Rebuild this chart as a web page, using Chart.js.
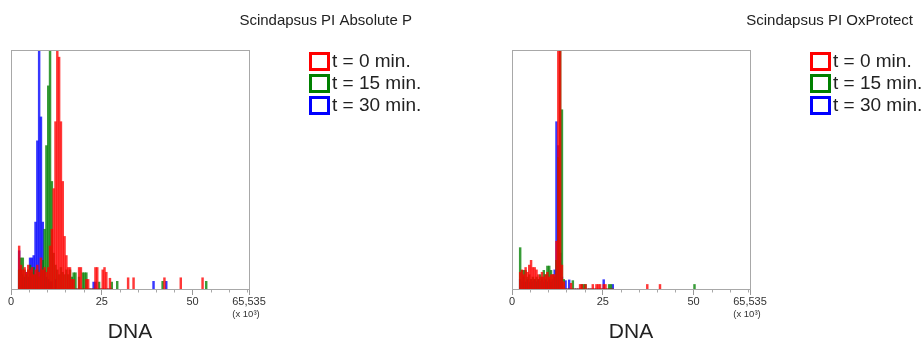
<!DOCTYPE html>
<html><head><meta charset="utf-8">
<script src="https://cdn.jsdelivr.net/npm/chart.js@4/dist/chart.umd.min.js"></script>
<style>
html,body{margin:0;padding:0;background:#fff;overflow:hidden;width:922px;height:345px;position:relative;}
.wrap{position:absolute;top:0;width:427px;height:345px;}
</style></head><body>
<div class="wrap" style="left:0"><canvas id="c1" width="427" height="345"></canvas></div>
<div class="wrap" style="left:501px"><canvas id="c2" width="427" height="345"></canvas></div>
<script>
// ---------- data ----------
const titles = ['Scindapsus PI Absolute P', 'Scindapsus PI OxProtect'];
const seriesLabels = ['t = 0 min.', 't = 15 min.', 't = 30 min.'];
const axisTitle = 'DNA';
const majorTicks = [0, 25, 50, 65.535];
const majorTickText = ['0', '25', '50', '65,535'];
const minorTicks = [5, 10, 15, 20, 30, 35, 40, 45, 55, 60, 65];
const scaleNote = '(x 10\u00B3)';
// bin centres (x 10^3) of the dense part of the histograms
const bins = [2.25,2.75,3.25,3.75,4.25,4.75,5.25,5.75,6.25,6.75,7.25,7.75,8.25,8.75,9.25,9.75,10.25,10.75,11.25,11.75,12.25,12.75,13.25,13.75,14.25,14.75,15.25,15.75,16.25,16.75,17.25,17.75,18.25,18.75,19.25,19.75,20.25,20.75,21.25,21.75,22.25,22.75,23.25,23.75,24.25,24.75,25.25,25.75,26.25,26.75,27.25,27.75];
// Absolute P (left) – counts in % of full scale
const absRed   = [18,10,8,9,7,10,8,9,6,8,10,7,13,8,9,7,9,18,25,42,70,100,97,70,45,22,14,9,9,4,4,0,0,9,9,0,0,4,4,0,0,0,9,9,0,0,8,9,7,0,4.5,0];
const absGreen = [8,13,13,8,6,8,10,7,9,6,8,5,8,12,25,60,85,100,45,15,10,8,6,9,7,6,8,6,8,5,6.8,6.8,0,5,0,6.8,6.8,6.8,0,0,0,0,0,0,2.9,0,0,0,0,0,0,2.9];
const absBlue  = [16,8,6,5,7,5,13,13,14,28,62,100,72,28,8,5,4,3,3,0,4,0,0,0,0,0,0,0,0,0,0,0,0,0,0,0,0,0,0,0,0,2.9,2.9,0,0,0,0,0,0,0,0,0];
const absRedTailX = [32.25, 33.75, 42.25, 46.75, 52.75];
const absRedTailY = [4.7, 4.7, 4.7, 4.7, 4.7];
const absGreenTailX = [29.25, 41.75, 53.75];
const absGreenTailY = [3.2, 3.2, 3.2];
const absBlueTailX = [39.25, 42.75];
const absBlueTailY = [3.2, 3.2];
// OxProtect (right)
const oxRed   = [7,8,6,9,7,10,12,9,9,8,6,5,7,5,6,7,5,6,6,6,20,100,100,10,3,0,0,0,2.4,0,0,0,0,1.9,1.9,0,1.9,0,0,0,1.9,0,1.9,1.9,1.9,0,1.9,1.9,0,0,0,0];
const oxGreen = [17.3,7.8,7.8,7.8,5,6,4,5,4,5,4,6,5,7.8,6,9.6,9.6,7.8,6,5,12,55,100,75,4,0,0,0,0,3.5,0,0,0,0,1.9,1.9,1.9,0,0,0,0,0,0,0,0,0,0,0,0,1.9,1.9,0];
const oxBlue  = [4,3,5,3,4,3,4,3,4,3,4,3,4,3,4,3,4,3,4,8,70,60,15,5,0,3.5,0,3.8,0,0,0,0,0,0,0,0,0,0,0,0,0,0,0,0,0,0,3.9,0,0,0,0,1.9];
const oxRedTailX = [37.25, 40.75];
const oxRedTailY = [1.9, 1.9];
const oxGreenTailX = [50.25];
const oxGreenTailY = [1.9];
const oxBlueTailX = [];
const oxBlueTailY = [];

// ---------- styling ----------
const solid = ['#ff0000', '#008000', '#0000ff'];
const fills = ['rgba(255,0,0,0.78)', 'rgba(0,128,0,0.78)', 'rgba(0,0,255,0.78)'];
const frameColor = '#a8a8a8';
const FONT = 'Arial, "Liberation Sans", sans-serif';
Chart.defaults.font.family = FONT;

function pts(xs, ys, tx, ty) {
  return xs.map((x, i) => ({x: x, y: ys[i]})).concat(tx.map((x, i) => ({x: x, y: ty[i]})));
}

// frame, minor ticks, scale note
const axisExtras = {
  id: 'axisExtras',
  afterDraw(chart) {
    const {ctx, chartArea: a} = chart;
    const x = chart.scales.x;
    ctx.save();
    ctx.strokeStyle = frameColor;
    ctx.lineWidth = 1;
    const l = Math.round(a.left) + 0.5, t = Math.round(a.top) + 0.5;
    const r = Math.round(a.right) + 0.5, b = Math.round(a.bottom) + 0.5;
    ctx.strokeRect(l, t, r - l, b - t);
    ctx.beginPath();
    minorTicks.forEach(v => {
      const px = Math.round(x.getPixelForValue(v)) + 0.5;
      ctx.moveTo(px, b); ctx.lineTo(px, b + 3);
    });
    ctx.stroke();
    ctx.fillStyle = '#333';
    ctx.font = '9.5px ' + FONT;
    ctx.textAlign = 'center';
    ctx.textBaseline = 'middle';
    ctx.fillText(scaleNote, x.getPixelForValue(65.535) - 3, b + 25);
    ctx.restore();
  }
};

// legend: open squares in the series colour, to the right of the plot
const boxLegend = {
  id: 'boxLegend',
  afterDraw(chart) {
    const {ctx, chartArea: a} = chart;
    ctx.save();
    chart.data.datasets.forEach((d, i) => {
      const bx = Math.round(a.right) + 61.5;
      const by = Math.round(a.top) + 3.5 + i * 22;
      ctx.lineWidth = 3;
      ctx.strokeStyle = solid[i];
      ctx.fillStyle = '#fff';
      ctx.fillRect(bx, by, 18, 16);
      ctx.strokeRect(bx, by, 18, 16);
      ctx.fillStyle = '#222';
      ctx.font = '19px ' + FONT;
      ctx.textAlign = 'left';
      ctx.textBaseline = 'middle';
      ctx.fillText(d.label, bx + 21.5, by + 8.5);
    });
    ctx.restore();
  }
};

function makeChart(id, title, red, green, blue) {
  return new Chart(document.getElementById(id), {
    type: 'bar',
    data: {
      datasets: [red, green, blue].map((d, i) => ({
        label: seriesLabels[i],
        data: d,
        backgroundColor: fills[i],
        borderColor: solid[i],
        borderWidth: 0,
        grouped: false,
        barPercentage: 1,
        categoryPercentage: 1
      }))
    },
    options: {
      responsive: false,
      animation: false,
      devicePixelRatio: 1,
      layout: {padding: {left: 11, right: 15, top: 0, bottom: 0}},
      plugins: {
        tooltip: {enabled: false},
        legend: {display: false},
        title: {
          display: true, text: title, align: 'end', color: '#222',
          font: {size: 15, weight: 'normal'},
          padding: {top: 11.5, bottom: 20.5}
        }
      },
      scales: {
        x: {
          type: 'linear', min: 0, max: 65.535, offset: false,
          grid: {offset: false, drawOnChartArea: false, drawTicks: true, tickLength: 6, color: '#999', tickColor: '#999'},
          border: {display: true, color: frameColor},
          afterBuildTicks: (s) => { s.ticks = majorTicks.map(v => ({value: v})); },
          ticks: {
            autoSkip: false, maxRotation: 0, padding: 0, color: '#333',
            font: {size: 11},
            callback: (v) => { const k = majorTicks.indexOf(v); return k >= 0 ? majorTickText[k] : ''; }
          },
          title: {display: true, text: axisTitle, color: '#222', font: {size: 21}, padding: {top: 11.6, bottom: 0}}
        },
        y: {type: 'linear', display: false, min: 0, max: 100},
        y2: {
          type: 'linear', position: 'right', display: true,
          grid: {display: false}, ticks: {display: false}, border: {display: false},
          afterFit: (s) => { s.width = 163; }
        }
      }
    },
    plugins: [axisExtras, boxLegend]
  });
}

makeChart('c1', titles[0],
  pts(bins, absRed, absRedTailX, absRedTailY),
  pts(bins, absGreen, absGreenTailX, absGreenTailY),
  pts(bins, absBlue, absBlueTailX, absBlueTailY));
makeChart('c2', titles[1],
  pts(bins, oxRed, oxRedTailX, oxRedTailY),
  pts(bins, oxGreen, oxGreenTailX, oxGreenTailY),
  pts(bins, oxBlue, oxBlueTailX, oxBlueTailY));
</script>
</body></html>
